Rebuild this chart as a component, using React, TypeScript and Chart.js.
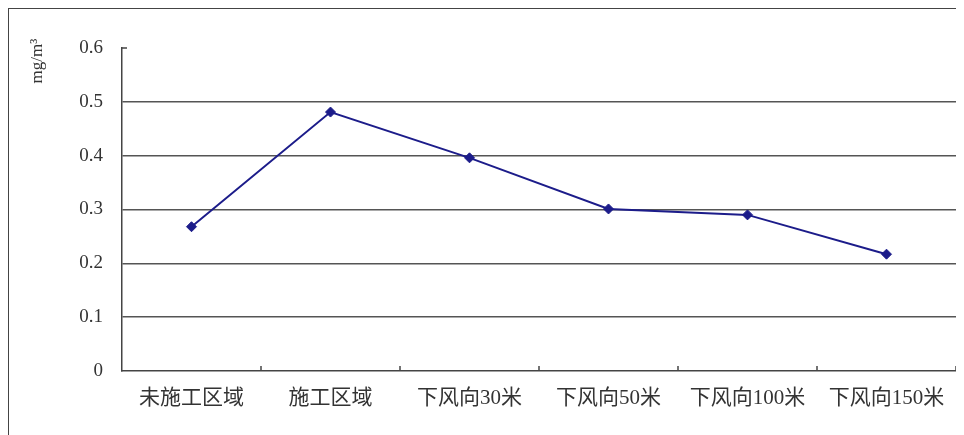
import React, { useEffect, useRef } from "react";
import { Chart, registerables } from "chart.js";

Chart.register(...registerables);

const categories = ["未施工区域", "施工区域", "下风向30米", "下风向50米", "下风向100米", "下风向150米"];
const concentration = [0.268, 0.481, 0.396, 0.301, 0.290, 0.217];
const yTitle = "mg/m³";

const FONT = "'Liberation Serif', 'Noto Sans CJK SC', serif";

const decorPlugin = {
  id: "decor",
  afterDraw(chart: any) {
    const ctx = chart.ctx;
    const xs = chart.scales.x;
    const ys = chart.scales.y;
    ctx.save();
    ctx.strokeStyle = "#444";
    ctx.lineWidth = 1.5;
    const yTop = ys.getPixelForValue(0.6);
    ctx.beginPath();
    ctx.moveTo(xs.left, yTop);
    ctx.lineTo(xs.left + 5, yTop);
    ctx.stroke();
    const n = categories.length;
    for (let i = 1; i <= n; i++) {
      let px: number;
      if (i === n) px = xs.right;
      else px = (xs.getPixelForValue(i - 1) + xs.getPixelForValue(i)) / 2;
      ctx.beginPath();
      ctx.moveTo(px, ys.bottom);
      ctx.lineTo(px, ys.bottom - 5);
      ctx.stroke();
    }
    ctx.translate(29, 52);
    ctx.rotate(-Math.PI / 2);
    ctx.fillStyle = "#333";
    ctx.font = "17px " + FONT;
    ctx.textAlign = "center";
    ctx.textBaseline = "middle";
    ctx.fillText(yTitle, 0, 0);
    ctx.restore();
  },
};

export default function App() {
  const ref = useRef<HTMLCanvasElement>(null);
  useEffect(() => {
    if (!ref.current) return;
    const chart = new Chart(ref.current, {
      type: "line",
      data: {
        labels: categories,
        datasets: [
          {
            data: concentration,
            borderColor: "#1c1c8a",
            backgroundColor: "#1c1c8a",
            borderWidth: 2,
            pointStyle: "rectRot",
            pointRadius: 5,
            pointBorderWidth: 1,
            tension: 0,
          },
        ],
      },
      options: {
        animation: false,
        responsive: false,
        maintainAspectRatio: false,
        layout: { padding: { top: 39, right: 8, left: 0, bottom: 0 } },
        plugins: { legend: { display: false }, tooltip: { enabled: false } },
        scales: {
          x: {
            offset: true,
            grid: { display: true, drawOnChartArea: false, drawTicks: false, offset: true },
            border: { display: true, color: "#444", width: 1.5 },
            ticks: { color: "#333", font: { size: 21, family: FONT }, padding: 15, maxRotation: 0, autoSkip: false },
            afterFit: (s: any) => { s.height = 64; },
          },
          y: {
            min: 0,
            max: 0.6,
            grid: {
              drawTicks: false,
              color: (c: any) => (c.tick && (c.tick.value === 0 || Math.abs(c.tick.value - 0.6) < 1e-6) ? "rgba(0,0,0,0)" : "#555"),
              lineWidth: 1.5,
            },
            border: { display: true, color: "#444", width: 1.5 },
            ticks: {
              stepSize: 0.1,
              color: "#333",
              font: { size: 19, family: FONT },
              padding: 19,
              callback: (v: any) => (Number(v) === 0 ? "0" : Number(v).toFixed(1)),
            },
            afterFit: (s: any) => { s.width = 113; },
          },
        },
      },
      plugins: [decorPlugin],
    });
    return () => chart.destroy();
  }, []);
  return (
    <div style={{ width: 955, height: 426, borderTop: "1.5px solid #444", borderLeft: "1.5px solid #444", background: "#fff" }}>
      <canvas ref={ref} width={955} height={426} style={{ display: "block" }} />
    </div>
  );
}
